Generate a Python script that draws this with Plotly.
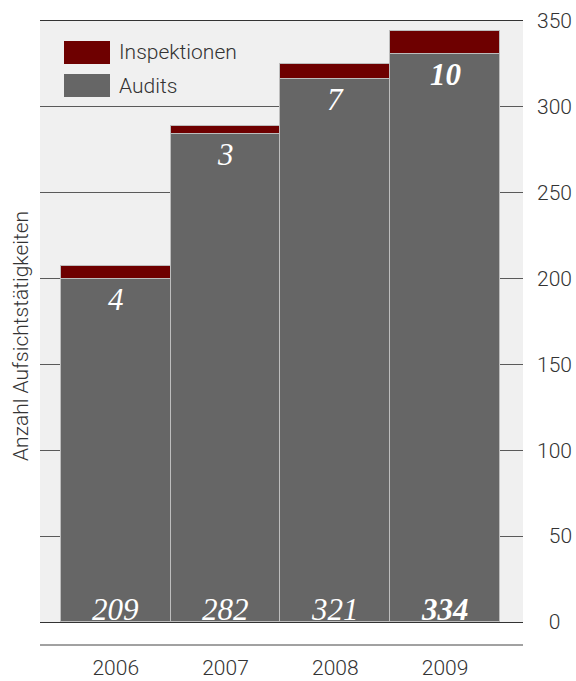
import plotly.graph_objects as go

years = ["2006", "2007", "2008", "2009"]
audits = [209, 282, 321, 334]          # labelled values
inspektionen = [4, 3, 7, 10]           # labelled values
audits_bar = [200, 284, 316, 331]      # bar heights as drawn in the picture
insp_bar = [7.5, 5, 9, 13]             # red segment heights as drawn
y_ticks = [0, 50, 100, 150, 200, 250, 300, 350]

GRAY = "#666666"
RED = "#6e0000"
TXT = "#333333"
FONT = "Roboto"

# plot area in pixels
L, R, T, B = 40, 523, 21, 622
W, H = 576, 681

def px(x):
    return (x - L) / (R - L)

def py(y):
    return (B - y) / (B - T)

fig = go.Figure()
fig.add_trace(go.Bar(x=years, y=audits_bar, marker=dict(color=GRAY, line=dict(color="#bdbdbd", width=1)),
                     name="Audits", showlegend=False, hoverinfo="skip"))
fig.add_trace(go.Bar(x=years, y=insp_bar, marker=dict(color=RED, line=dict(color="#bdbdbd", width=1)),
                     name="Inspektionen", showlegend=False, hoverinfo="skip"))

def fmt(v, i):
    return f"<b>{v}</b>" if i == len(years) - 1 else str(v)

label_font = dict(family="Liberation Serif", size=31, color="white", style="italic")
for i, yr in enumerate(years):
    fig.add_annotation(x=i, y=0, text=fmt(audits[i], i), showarrow=False,
                       yanchor="bottom", yshift=-7, font=label_font)
    fig.add_annotation(x=i, y=audits_bar[i], text=fmt(inspektionen[i], i), showarrow=False,
                       yanchor="top", yshift=-1, font=label_font)

fig.update_layout(
    width=W, height=H,
    margin=dict(l=L, r=W - R, t=T, b=H - B),
    paper_bgcolor="white", plot_bgcolor="#f0f0f0",
    barmode="stack", bargap=0,
    font=dict(family=FONT, size=22, color=TXT, weight=300),
    xaxis=dict(type="category", range=[-0.69, 3.71], showgrid=False, showline=True, mirror=True,
               automargin=False, linecolor=TXT, linewidth=1, ticks="", ticklabelstandoff=27,
               tickfont=dict(size=21, color=TXT, family=FONT, weight=300), fixedrange=True),
    yaxis=dict(range=[0, 350], side="right", tickvals=y_ticks, automargin=False,
               ticktext=["\u2007" + str(v) if v < 100 else str(v) for v in y_ticks],
               showgrid=True, gridcolor="#5a5a5a", gridwidth=1,
               zeroline=False, ticks="", ticklabelstandoff=13,
               tickfont=dict(size=21, color=TXT, family=FONT, weight=300), fixedrange=True),
    showlegend=False,
)

# bottom separator line
fig.add_shape(type="line", xref="paper", yref="paper", x0=0, x1=1, y0=py(645), y1=py(645),
              line=dict(color="#444444", width=1))

# legend (drawn)
for (label, color, top, bot) in [("Inspektionen", RED, 41, 64), ("Audits", GRAY, 74, 97)]:
    fig.add_shape(type="rect", xref="paper", yref="paper", x0=px(64), x1=px(110),
                  y0=py(bot), y1=py(top), fillcolor=color, line=dict(width=0), layer="above")
    fig.add_annotation(xref="paper", yref="paper", x=px(117), y=py((top + bot) / 2),
                       text=label, showarrow=False, xanchor="left", yanchor="middle",
                       font=dict(family=FONT, size=21, color=TXT, weight=300))

# y-axis title on the left
fig.add_annotation(xref="paper", yref="paper", x=px(21), y=py(336), text="Anzahl Aufsichtstätigkeiten",
                   textangle=-90, showarrow=False, xanchor="center", yanchor="middle",
                   font=dict(family=FONT, size=21, color=TXT, weight=300))

fig.write_html("out.html")
